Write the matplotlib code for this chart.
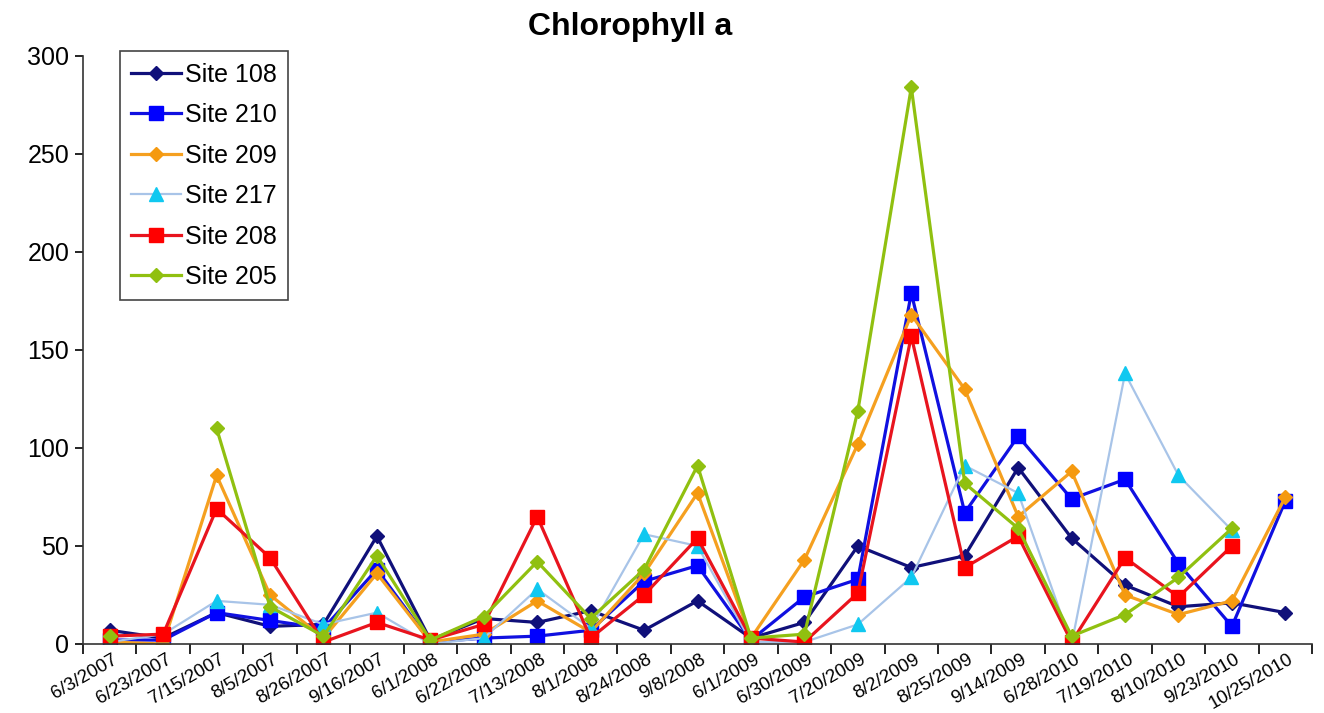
import numpy as np
import matplotlib
matplotlib.use("Agg")
import matplotlib.pyplot as plt
from matplotlib.transforms import ScaledTranslation

plt.rcParams['font.family'] = ['Liberation Sans', 'DejaVu Sans']

nan = np.nan

dates = ["6/3/2007", "6/23/2007", "7/15/2007", "8/5/2007", "8/26/2007", "9/16/2007",
         "6/1/2008", "6/22/2008", "7/13/2008", "8/1/2008", "8/24/2008", "9/8/2008",
         "6/1/2009", "6/30/2009", "7/20/2009", "8/2/2009", "8/25/2009", "9/14/2009",
         "6/28/2010", "7/19/2010", "8/10/2010", "9/23/2010", "10/25/2010"]

site_108 = [7, 3, 16, 9, 10, 55, 2, 13, 11, 17, 7, 22, 3, 11, 50, 39, 45, 90, 54, 30, 19, 21, 16]
site_210 = [2, 2, 16, 12, 8, 38, 1, 3, 4, 7, 32, 40, 2, 24, 33, 179, 67, 106, 74, 84, 41, 9, 73]
site_209 = [1, 0, 86, 25, 3, 36, 1, 5, 22, 6, 36, 77, 3, 43, 102, 168, 130, 65, 88, 25, 15, 22, 75]
site_217 = [1, 5, 22, 20, 10, 16, 0, 3, 28, 8, 56, 50, 1, 1, 10, 34, 91, 77, 0, 138, 86, 58, nan]
site_208 = [4, 5, 69, 44, 1, 11, 2, 10, 65, 3, 25, 54, 3, 1, 26, 157, 39, 55, 1, 44, 24, 50, nan]
site_205 = [4, nan, 110, 19, 4, 45, 2, 14, 42, 13, 38, 91, 3, 5, 119, 284, 82, 59, 4, 15, 34, 59, nan]

series = [
    ("Site 108", site_108, "#10107a", "#10107a", "D", 7, 2.3),
    ("Site 210", site_210, "#1010e0", "#0000ff", "s", 10, 2.3),
    ("Site 209", site_209, "#f5a020", "#f59a10", "D", 7, 2.3),
    ("Site 217", site_217, "#a8c4e8", "#10c8f0", "^", 10, 1.6),
    ("Site 208", site_208, "#e8141e", "#ff0000", "s", 10, 2.3),
    ("Site 205", site_205, "#90c010", "#90c010", "D", 7, 2.3),
]

fig = plt.figure(figsize=(13.24, 7.13), dpi=100)
ax = fig.add_axes([0.0627, 0.0968, 0.9283, 0.8247])

x = np.arange(len(dates))
for name, vals, lc, mc, mk, ms, lw in series:
    ax.plot(x, vals, color=lc, lw=lw, marker=mk, markersize=ms,
            markerfacecolor=mc, markeredgecolor=mc, label=name)

ax.set_xlim(-0.5, len(dates) - 0.5)
ax.set_ylim(0, 300)
ax.set_yticks(np.arange(0, 301, 50))
ax.tick_params(axis='y', labelsize=18, length=6, width=1.2, direction='out', pad=4)

ax.set_xticks(x)
ax.set_xticklabels(dates, rotation=30, ha='right', va='top', fontsize=13.5)
ax.set_xticks(np.arange(-0.5, len(dates), 1), minor=True)
ax.tick_params(axis='x', which='major', length=0, pad=5)
ax.tick_params(axis='x', which='minor', length=7, width=1.2, direction='out')
for lab in ax.get_xticklabels():
    lab.set_transform(lab.get_transform() + ScaledTranslation(0.11, 0, fig.dpi_scale_trans))

for s in ['top', 'right']:
    ax.spines[s].set_visible(False)
for s in ['left', 'bottom']:
    ax.spines[s].set_linewidth(1.2)
    ax.spines[s].set_color('#333333')

fig.text(0.476, 0.962, "Chlorophyll a", fontsize=23, fontweight='bold',
         ha='center', va='center')

leg = ax.legend(loc='upper left', bbox_to_anchor=(0.03, 1.008), borderaxespad=0,
                fontsize=18, fancybox=False, edgecolor='#444444', framealpha=1,
                handlelength=2.0, labelspacing=0.66, borderpad=0.45, handletextpad=0.15)
leg.get_frame().set_linewidth(1.2)

fig.savefig("out.png", dpi=100)
